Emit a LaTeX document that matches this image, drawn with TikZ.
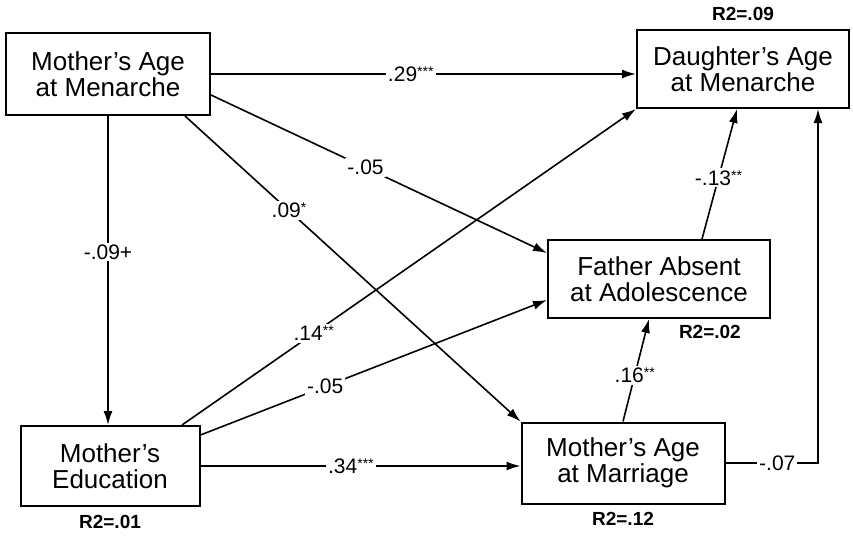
\documentclass[tikz,border=0pt]{standalone}
\usepackage{fontspec}
\setmainfont{Liberation Sans}
\usetikzlibrary{positioning}
\usepgflibrary{arrows.meta}

\newcommand{\stars}[1]{\raisebox{5pt}{\fontsize{14}{14}\selectfont #1}}

\begin{document}
\begin{tikzpicture}
    [x=1pt, y=-1pt,
    box/.style={draw, line width=2pt, align=center, inner sep=0pt,
        font=\fontsize{26}{26}\selectfont},
    link/.style={line width=1.6pt, -{Latex[length=14pt, width=9pt]}},
    coef/.style={fill=white, inner sep=2pt, font=\fontsize{21}{21}\selectfont},
    rsq/.style={inner sep=0pt, font=\bfseries\fontsize{19}{19}\selectfont}]
        \useasboundingbox (0,0) rectangle (853,535);
        %% Variables
        \node[box, minimum width=204pt, minimum height=82pt] (MA) at (108,74) {Mother's Age\\at Menarche};
        \node[box, minimum width=212pt, minimum height=78pt] (DA) at (743,69) {Daughter's Age\\at Menarche};
        \node[box, minimum width=222pt, minimum height=78pt] (FA) at (659,279) {Father Absent\\at Adolescence};
        \node[box, minimum width=179pt, minimum height=80pt] (ME) at (110,466) {Mother's\\Education};
        \node[box, minimum width=203pt, minimum height=81pt] (MM) at (623,463) {Mother's Age\\at Marriage};

        %% R2 values
        \node[rsq, above=8pt of DA] (RDA) {R2=.09};
        \node[rsq, anchor=north east] (RFA) at ([xshift=-30pt, yshift=-6pt]FA.south east) {R2=.02};
        \node[rsq, below=8pt of ME] (RME) {R2=.01};
        \node[rsq, below=8pt of MM] (RMM) {R2=.12};

        \coordinate (C7) at ([xshift=75pt]DA.south);

        %% Paths
        \draw[link] (MA.east) -- node[coef, pos=.47] {.29\stars{***}} (MA.east -| DA.west);
        \draw[link] (MA.south) -- node[coef, pos=.44] {-.09+} (MA.south |- ME.north);
        \draw[link] ([yshift=-21pt]MA.east) -- node[coef, pos=.46] {-.05} ([yshift=26pt]FA.west);
        \draw[link] ([xshift=77pt]MA.south) -- node[coef, pos=.31] {.09\stars{*}} (MM.north west);
        \draw[link] ([xshift=72pt]ME.north) -- node[coef, pos=.29] {.14\stars{**}} (DA.south west);
        \draw[link] ([yshift=31pt]ME.east) -- node[coef, pos=.36] {-.05} ([yshift=-21pt]FA.west);
        \draw[link] (ME.east) -- node[coef, pos=.47] {.34\stars{***}} (ME.east -| MM.west);
        \draw[link] (MM.north) -- node[coef, pos=.45] {.16\stars{**}} ([xshift=-10pt]FA.south);
        \draw[link] ([xshift=43pt]FA.north) -- node[coef, pos=.47] {-.13\stars{**}} ([xshift=-6pt]DA.south);
        \draw[link] (MM.east) -- node[coef, pos=.56] {-.07} (MM.east -| C7) -- (C7);
    \end{tikzpicture}
\end{document}
